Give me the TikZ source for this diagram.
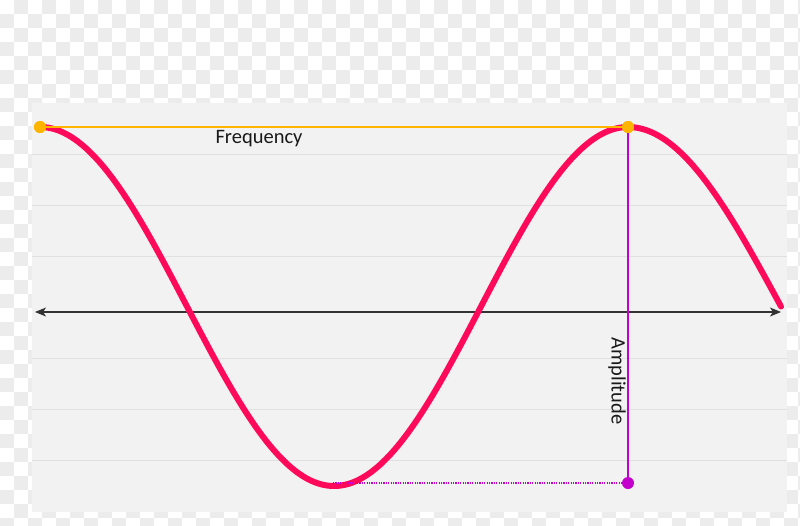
\documentclass[tikz,border=0pt]{standalone}
\usepackage{fontspec}
\setmainfont{Carlito}
\usetikzlibrary{arrows.meta}
\definecolor{chk}{HTML}{ECECEC}
\definecolor{panel}{HTML}{F2F2F3}
\definecolor{grid}{HTML}{E0E0E0}
\definecolor{wave}{HTML}{FF0A5A}
\definecolor{gold}{HTML}{FFB400}
\definecolor{mag}{HTML}{C400CC}
\definecolor{axisc}{HTML}{333333}
\tikzset{
  gridline/.style={grid, line width=0.8pt},
  axisline/.style={axisc, line width=1.1pt, {Stealth[length=11pt,width=9pt,inset=3pt]}-{Stealth[length=11pt,width=9pt,inset=3pt]}},
  waveline/.style={wave, line width=6pt, line cap=round, line join=round},
  freqline/.style={gold, line width=1.5pt},
  ampline/.style={mag, line width=1.5pt},
  ampdot/.style={mag, line width=1.2pt, dash pattern=on 1.2pt off 1.2pt},
  ydot/.style={circle, fill=gold, inner sep=0pt, minimum size=12pt},
  mdot/.style={circle, fill=mag, inner sep=0pt, minimum size=12pt},
  lbl/.style={font=\fontsize{20.5}{24}\selectfont, text=black!90, inner sep=0pt}
}
\begin{document}
\begin{tikzpicture}[x=1pt,y=-1pt]
\useasboundingbox (0,0) rectangle (800,525);
\fill[white] (0,0) rectangle (800,525);
\foreach \i in {0,...,57}{
  \foreach \j in {0,...,37}{
    \pgfmathtruncatemacro\k{mod(\i+\j,2)}
    \ifnum\k=1 \fill[chk] (\i*14,\j*14) rectangle ++(14,14);\fi
  }
}
\fill[panel] (32,103) rectangle (787,512);
\foreach \yy in {154.5,205.5,256.5,358,409,460.5}{
  \draw[gridline] (32,\yy) -- (787,\yy);
}
\coordinate (al) at (35,312);
\coordinate (ar) at (781,312);
\draw[axisline] (al) -- (ar);
\draw[waveline] plot[domain=40:628, samples=220] (\x, {306.5-179.5*cos((\x-40)/588*360)})
  -- plot[domain=628:781, samples=60] (\x, {306.5-179.5*cos((\x-628)/153*90)});
\node[ydot] (p1) at (40,127) {};
\node[ydot] (p2) at (628,127) {};
\node[mdot] (m) at (628,483) {};
\coordinate (t) at (333,483);
\draw[freqline] (p1.center) -- (p2.center);
\draw[ampline] (p2.center) -- (m.center);
\draw[ampdot] (t) -- (m.center);
\node[ydot] at (p1) {};
\node[ydot] at (p2) {};
\node[lbl] (freq) at (259,139) {Frequency};
\node[lbl, rotate=-90] (amp) at (617,381) {Amplitude};
\end{tikzpicture}
\end{document}
